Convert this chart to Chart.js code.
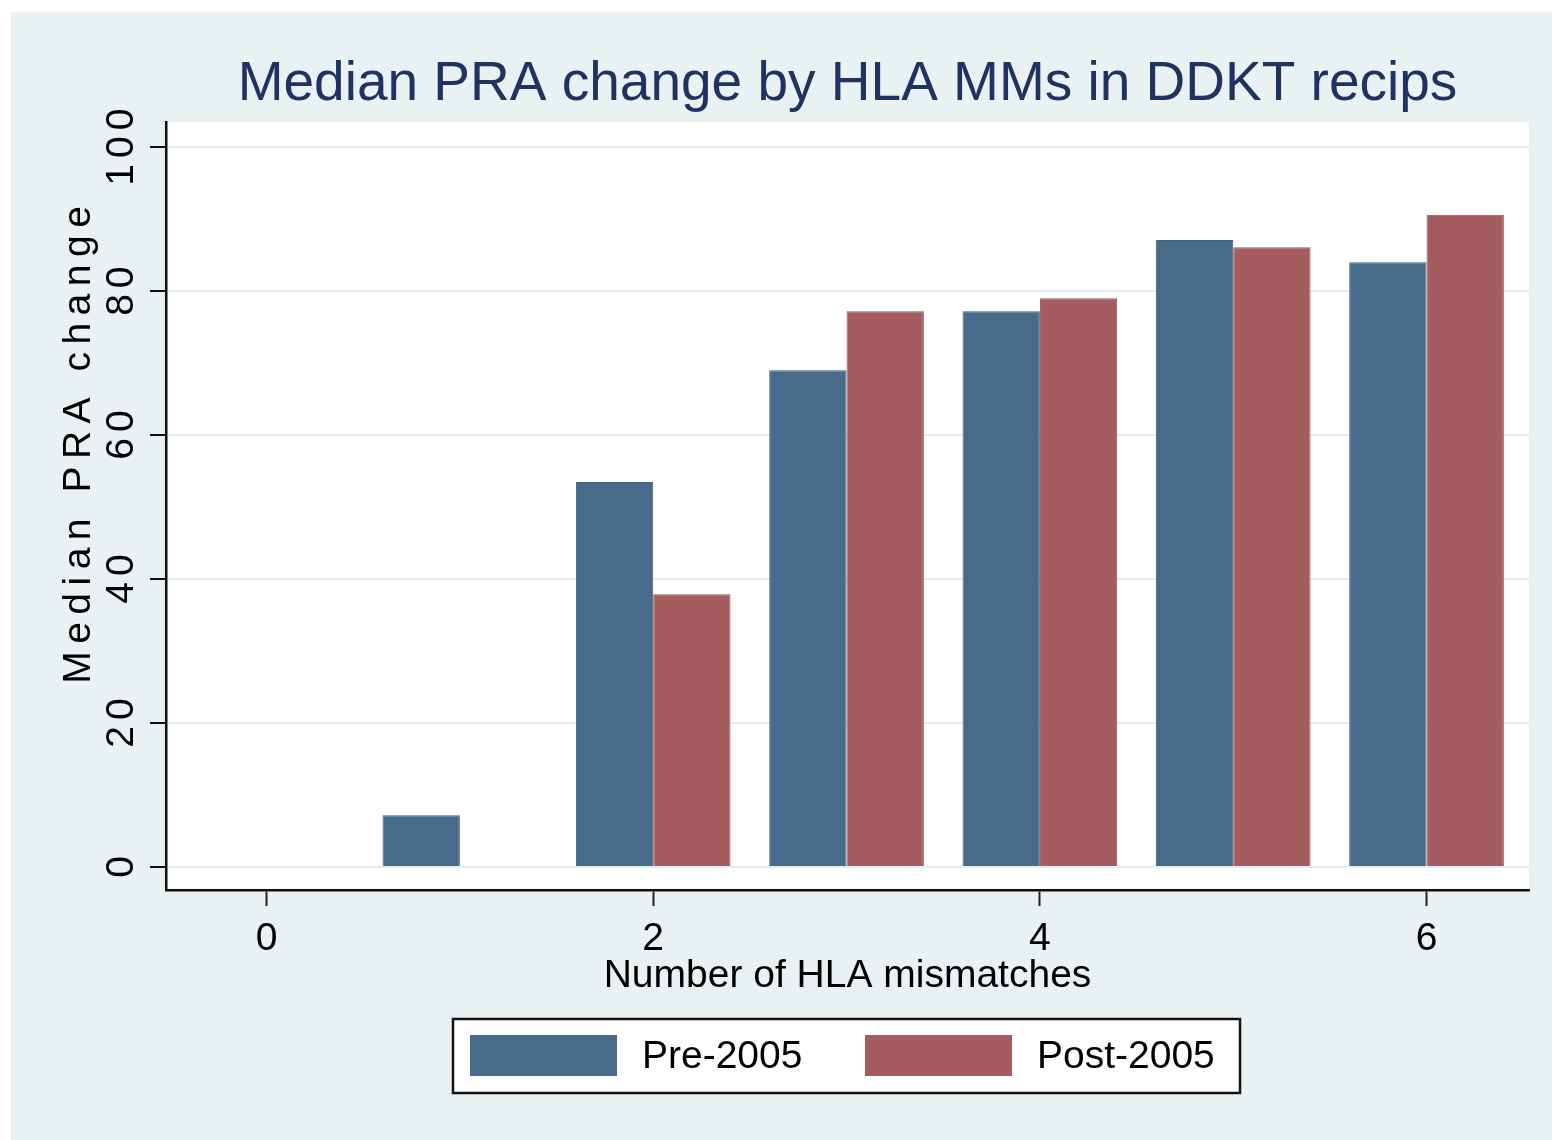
<!DOCTYPE html>
<html>
<head>
<meta charset="utf-8">
<title>Median PRA change by HLA MMs in DDKT recips</title>
<style>
  html, body { margin: 0; padding: 0; background: #fff; }
</style>
<script src="https://cdn.jsdelivr.net/npm/chart.js@4.4.1/dist/chart.umd.min.js"></script>
</head>
<body>
<canvas id="chartPRA" width="1552" height="1140"></canvas>
<script>
/* ─── Data ───────────────────────────────────────────────── */
const mismatches = [0, 1, 2, 3, 4, 5, 6];
const pre2005    = [null, 7.2, 53.5, 69.0, 77.2, 87.1, 84.0];
const post2005   = [null, null, 37.9, 77.2, 79.0, 86.1, 90.6];
const xTicks     = [0, 2, 4, 6];
const yTicks     = [0, 20, 40, 60, 80, 100];

/* ─── Style ──────────────────────────────────────────────── */
const FONT    = '"Liberation Sans", Arial, sans-serif';
const NAVY    = '#486a8b';
const MAROON  = '#a55c5f';
const BG      = '#e9f1f3';
const GRID    = '#e3ecef';

const toPoints = vals => mismatches.map((m, i) => ({ x: m, y: vals[i] }));

/* ─── Stata-like frame, rotated y labels, boxed legend ───── */
const stataFrame = {
  id: 'stataFrame',
  beforeDraw(chart) {
    const { ctx, width, height, chartArea: a } = chart;
    ctx.save();
    ctx.fillStyle = '#ffffff';
    ctx.fillRect(0, 0, width, height);
    ctx.fillStyle = BG;
    ctx.fillRect(11, 12, width - 11, height - 12);
    ctx.fillStyle = '#ffffff';
    ctx.fillRect(a.left, a.top, a.right - a.left, a.bottom - a.top);
    ctx.restore();
  },
  afterDraw(chart) {
    const { ctx } = chart;
    const yScale = chart.scales.y;
    ctx.save();
    ctx.fillStyle = '#000';
    ctx.font = `39px ${FONT}`;
    ctx.textAlign = 'left';
    ctx.textBaseline = 'alphabetic';

    // y tick labels, rotated and spaced out like Stata does
    ctx.letterSpacing = '6px';
    yTicks.forEach(v => {
      const label = String(v);
      const w = ctx.measureText(label).width - 6;
      ctx.save();
      ctx.translate(133, yScale.getPixelForValue(v));
      ctx.rotate(-Math.PI / 2);
      ctx.fillText(label, -w / 2, 0);
      ctx.restore();
    });

    // y title
    ctx.letterSpacing = '7.5px';
    const yTitle = 'Median PRA change';
    const tw = ctx.measureText(yTitle).width - 7.5;
    ctx.save();
    ctx.translate(90, 445);
    ctx.rotate(-Math.PI / 2);
    ctx.fillText(yTitle, -tw / 2, 0);
    ctx.restore();

    // legend
    ctx.letterSpacing = '0px';
    ctx.fillStyle = '#ffffff';
    ctx.fillRect(453, 1019, 787, 74);
    ctx.strokeStyle = '#111';
    ctx.lineWidth = 2.5;
    ctx.strokeRect(453, 1019, 787, 74);
    const swatchX = [470, 865];
    chart.data.datasets.forEach((ds, i) => {
      ctx.fillStyle = ds.backgroundColor;
      ctx.fillRect(swatchX[i], 1035, 147, 41);
      ctx.fillStyle = '#000';
      ctx.textBaseline = 'middle';
      ctx.fillText(ds.label, swatchX[i] + 172, 1057);
    });
    ctx.restore();
  },
};

/* ─── Chart ──────────────────────────────────────────────── */
new Chart(document.getElementById('chartPRA'), {
  type: 'bar',
  data: {
    datasets: [
      {
        label: 'Pre-2005',
        data: toPoints(pre2005),
        backgroundColor: NAVY,
        borderColor: '#3f6082',
        borderWidth: 1,
        barPercentage: 1,
        categoryPercentage: 0.8,
      },
      {
        label: 'Post-2005',
        data: toPoints(post2005),
        backgroundColor: MAROON,
        borderColor: '#9a5256',
        borderWidth: 1,
        barPercentage: 1,
        categoryPercentage: 0.8,
      },
    ],
  },
  options: {
    responsive: false,
    animation: false,
    layout: { padding: { left: 0, right: 23, top: 0, bottom: 0 } },
    plugins: {
      legend: { display: false },
      tooltip: { enabled: false },
      title: {
        display: true,
        fullSize: false,
        text: 'Median PRA change by HLA MMs in DDKT recips',
        color: '#1f3261',
        font: { family: FONT, size: 55, weight: 'normal', lineHeight: 1 },
        padding: { top: 57, bottom: 10 },
      },
    },
    scales: {
      x: {
        type: 'linear',
        min: -0.52,
        max: 6.53,
        offset: false,
        afterBuildTicks: s => { s.ticks = xTicks.map(v => ({ value: v })); },
        afterFit: s => { s.height = 250; },
        grid: {
          drawOnChartArea: false,
          drawTicks: true,
          tickLength: 16,
          tickWidth: 2,
          tickColor: '#222',
          offset: false,
        },
        border: { display: true, color: '#111', width: 2.5 },
        ticks: {
          color: '#000',
          font: { family: FONT, size: 39, lineHeight: 1 },
          padding: 14,
          maxRotation: 0,
          autoSkip: false,
        },
        title: {
          display: true,
          text: 'Number of HLA mismatches',
          color: '#000',
          font: { family: FONT, size: 39, lineHeight: 1 },
          padding: { top: 0, bottom: 144 },
        },
      },
      y: {
        min: -3.2,
        max: 103.5,
        afterBuildTicks: s => { s.ticks = yTicks.map(v => ({ value: v })); },
        afterFit: s => { s.width = 166; },
        grid: {
          color: GRID,
          lineWidth: 2,
          drawTicks: true,
          tickLength: 16,
          tickWidth: 2,
          tickColor: '#111',
        },
        border: { display: true, color: '#111', width: 2.5 },
        ticks: { display: false },
      },
    },
  },
  plugins: [stataFrame],
});
</script>
</body>
</html>
